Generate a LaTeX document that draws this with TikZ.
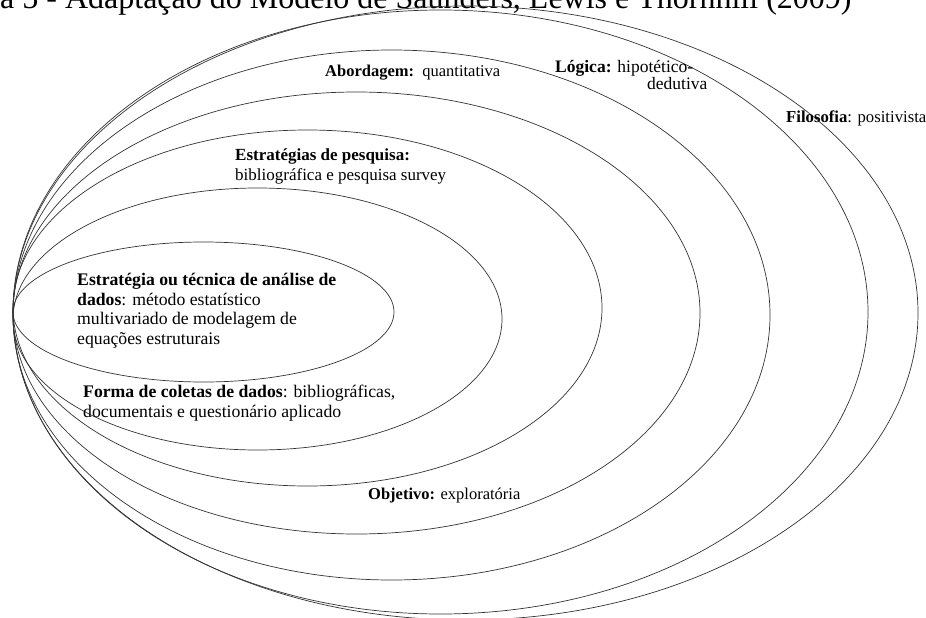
\documentclass[tikz,border=0pt]{standalone}
\usepackage{fontspec}
\setmainfont{Liberation Serif}
\begin{document}
\begin{tikzpicture}[x=1pt,y=-1pt,
    ring/.style={draw=black!80,line width=0.7pt},
    lbl/.style={inner sep=0pt,font=\fontsize{16.5}{19}\selectfont,align=left},
    big/.style={font=\fontsize{17.7}{19.5}\selectfont},
    ttl/.style={inner sep=0pt,font=\fontsize{32}{36}\selectfont}]
  \useasboundingbox (0,0) rectangle (926,618);
  \clip (0,0) rectangle (926,618);

  % caption line, cut by the upper edge
  \node[ttl,anchor=base west] (title) at (0,9)
    {a 5 - Adaptação do Modelo de Saunders, Lewis e Thornhill (2009)};

  % nested layers, all meeting at the left
  \draw[ring] (465.5,313) ellipse [x radius=452.5pt, y radius=307pt]; % filosofia
  \draw[ring] (440.5,312) ellipse [x radius=427.5pt, y radius=302pt]; % logica
  \draw[ring] (391.5,315) ellipse [x radius=378.5pt, y radius=265pt]; % abordagem
  \draw[ring] (356.5,313) ellipse [x radius=343.5pt, y radius=221pt]; % objetivo
  \draw[ring] (307.5,308) ellipse [x radius=294.5pt, y radius=178pt]; % estrategias
  \draw[ring] (257.5,319) ellipse [x radius=244.5pt, y radius=131pt]; % coleta
  \draw[ring] (203.5,312) ellipse [x radius=190.5pt, y radius=70pt];  % analise

  % layer labels
  \node[lbl,anchor=north west,font=\fontsize{16.7}{19}\selectfont] (filosofia) at (786,111)
    {\textbf{Filosofia}: positivista};
  \node[lbl,anchor=north west,font=\fontsize{17.5}{17}\selectfont] (logica) at (555,60)
    {\textbf{Lógica:} hipotético-\\\hspace*{92pt}dedutiva};
  \node[lbl,anchor=north west] (abordagem) at (325,65)
    {\textbf{Abordagem:}\ \ quantitativa};
  \node[lbl,anchor=north west,font=\fontsize{17}{20}\selectfont] (estrategias) at (235,148)
    {\textbf{Estratégias de pesquisa:}\\bibliográfica e pesquisa survey};
  \node[lbl,anchor=north west] (objetivo) at (368,488)
    {\textbf{Objetivo:} exploratória};
  \node[lbl,anchor=north west,big] (coleta) at (83,385)
    {\textbf{Forma de coletas de dados}: bibliográficas,\\documentais e questionário aplicado};
  \node[lbl,anchor=north west,big] (analise) at (77,273)
    {\textbf{Estratégia ou técnica de análise de}\\\textbf{dados}: método estatístico\\multivariado de modelagem de\\equações estruturais};
\end{tikzpicture}
\end{document}
